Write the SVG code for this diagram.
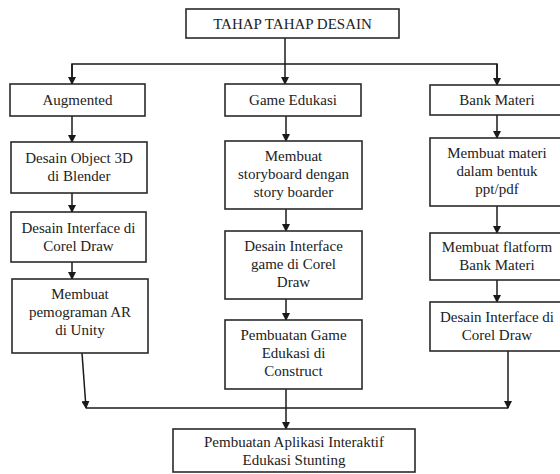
<svg xmlns="http://www.w3.org/2000/svg" width="560" height="474" viewBox="0 0 560 474">
<defs>
<marker id="ah" markerWidth="8" markerHeight="8" refX="7" refY="4" orient="auto" markerUnits="userSpaceOnUse">
<path d="M0,0 L8,4 L0,8 Z" fill="#1a1a1a"/>
</marker>
<style>
.box{fill:#fff;stroke:#2a2a2a;stroke-width:1.6}
.t{font-size:15px;fill:#222;text-anchor:middle}
.c{fill:none;stroke:#1a1a1a;stroke-width:1.5}
.a{fill:none;stroke:#1a1a1a;stroke-width:1.5;marker-end:url(#ah)}
</style>
</defs>
<rect width="560" height="474" fill="#fff"/>
<g id="connectors">
<line class="a" x1="285" y1="38" x2="285" y2="84"/>
<polyline class="c" points="72,84 72,64 497,64 497,85"/>
<line class="a" x1="72" y1="64" x2="72" y2="84"/>
<line class="a" x1="497" y1="64" x2="497" y2="85"/>
<line class="a" x1="72" y1="116" x2="72" y2="142"/>
<line class="a" x1="72" y1="193" x2="72" y2="212"/>
<line class="a" x1="72" y1="262" x2="72" y2="279"/>
<line class="a" x1="286" y1="116" x2="286" y2="141"/>
<line class="a" x1="286" y1="209" x2="286" y2="231"/>
<line class="a" x1="286" y1="299" x2="286" y2="320"/>
<line class="a" x1="286" y1="389" x2="286" y2="429"/>
<line class="a" x1="497" y1="115" x2="497" y2="138"/>
<line class="a" x1="497" y1="206" x2="497" y2="233"/>
<line class="a" x1="497" y1="280" x2="497" y2="302"/>
<line class="c" x1="86" y1="408" x2="508" y2="408"/>
<line class="a" x1="82" y1="353" x2="86" y2="408"/>
<line class="a" x1="508" y1="351" x2="508" y2="408"/>
</g>
<g font-family="Liberation Serif, Times New Roman, serif">
<g id="top">
<rect class="box" x="186" y="9" width="213" height="29"/>
<text class="t" x="292.5" y="29">TAHAP TAHAP DESAIN</text>
</g>
<g id="augmented">
<rect class="box" x="10" y="84" width="135" height="32"/>
<text class="t" x="77.5" y="105">Augmented</text>
</g>
<g id="game">
<rect class="box" x="225" y="84" width="136" height="32"/>
<text class="t" x="293" y="105">Game Edukasi</text>
</g>
<g id="bank">
<rect class="box" x="430" y="85" width="134" height="30"/>
<text class="t" x="497" y="105">Bank Materi</text>
</g>
<g id="object3d">
<rect class="box" x="11" y="142" width="136" height="51"/>
<text class="t" x="79" y="163">Desain Object 3D</text>
<text class="t" x="79" y="181">di Blender</text>
</g>
<g id="interfaceAR">
<rect class="box" x="11" y="212" width="135" height="50"/>
<text class="t" x="78.5" y="233">Desain Interface di</text>
<text class="t" x="78.5" y="251">Corel Draw</text>
</g>
<g id="pemograman">
<rect class="box" x="12" y="279" width="136" height="74"/>
<text class="t" x="80" y="299">Membuat</text>
<text class="t" x="80" y="317">pemograman AR</text>
<text class="t" x="80" y="335">di Unity</text>
</g>
<g id="storyboard">
<rect class="box" x="225" y="141" width="137" height="68"/>
<text class="t" x="293.5" y="161">Membuat</text>
<text class="t" x="293.5" y="179">storyboard dengan</text>
<text class="t" x="293.5" y="197">story boarder</text>
</g>
<g id="interfaceGame">
<rect class="box" x="225" y="231" width="137" height="68"/>
<text class="t" x="293.5" y="251">Desain Interface</text>
<text class="t" x="293.5" y="269">game di Corel</text>
<text class="t" x="293.5" y="287">Draw</text>
</g>
<g id="construct">
<rect class="box" x="225" y="320" width="137" height="69"/>
<text class="t" x="293.5" y="340">Pembuatan Game</text>
<text class="t" x="293.5" y="358">Edukasi di</text>
<text class="t" x="293.5" y="376">Construct</text>
</g>
<g id="materi">
<rect class="box" x="430" y="138" width="134" height="68"/>
<text class="t" x="497" y="158">Membuat materi</text>
<text class="t" x="497" y="176">dalam bentuk</text>
<text class="t" x="497" y="194">ppt/pdf</text>
</g>
<g id="flatform">
<rect class="box" x="430" y="233" width="134" height="47"/>
<text class="t" x="497" y="252">Membuat flatform</text>
<text class="t" x="497" y="270">Bank Materi</text>
</g>
<g id="interfaceBank">
<rect class="box" x="430" y="302" width="134" height="49"/>
<text class="t" x="497" y="322">Desain Interface di</text>
<text class="t" x="497" y="340">Corel Draw</text>
</g>
<g id="final">
<rect class="box" x="173" y="429" width="242" height="43"/>
<text class="t" x="294" y="447">Pembuatan Aplikasi Interaktif</text>
<text class="t" x="294" y="465">Edukasi Stunting</text>
</g>
</g>
</svg>
